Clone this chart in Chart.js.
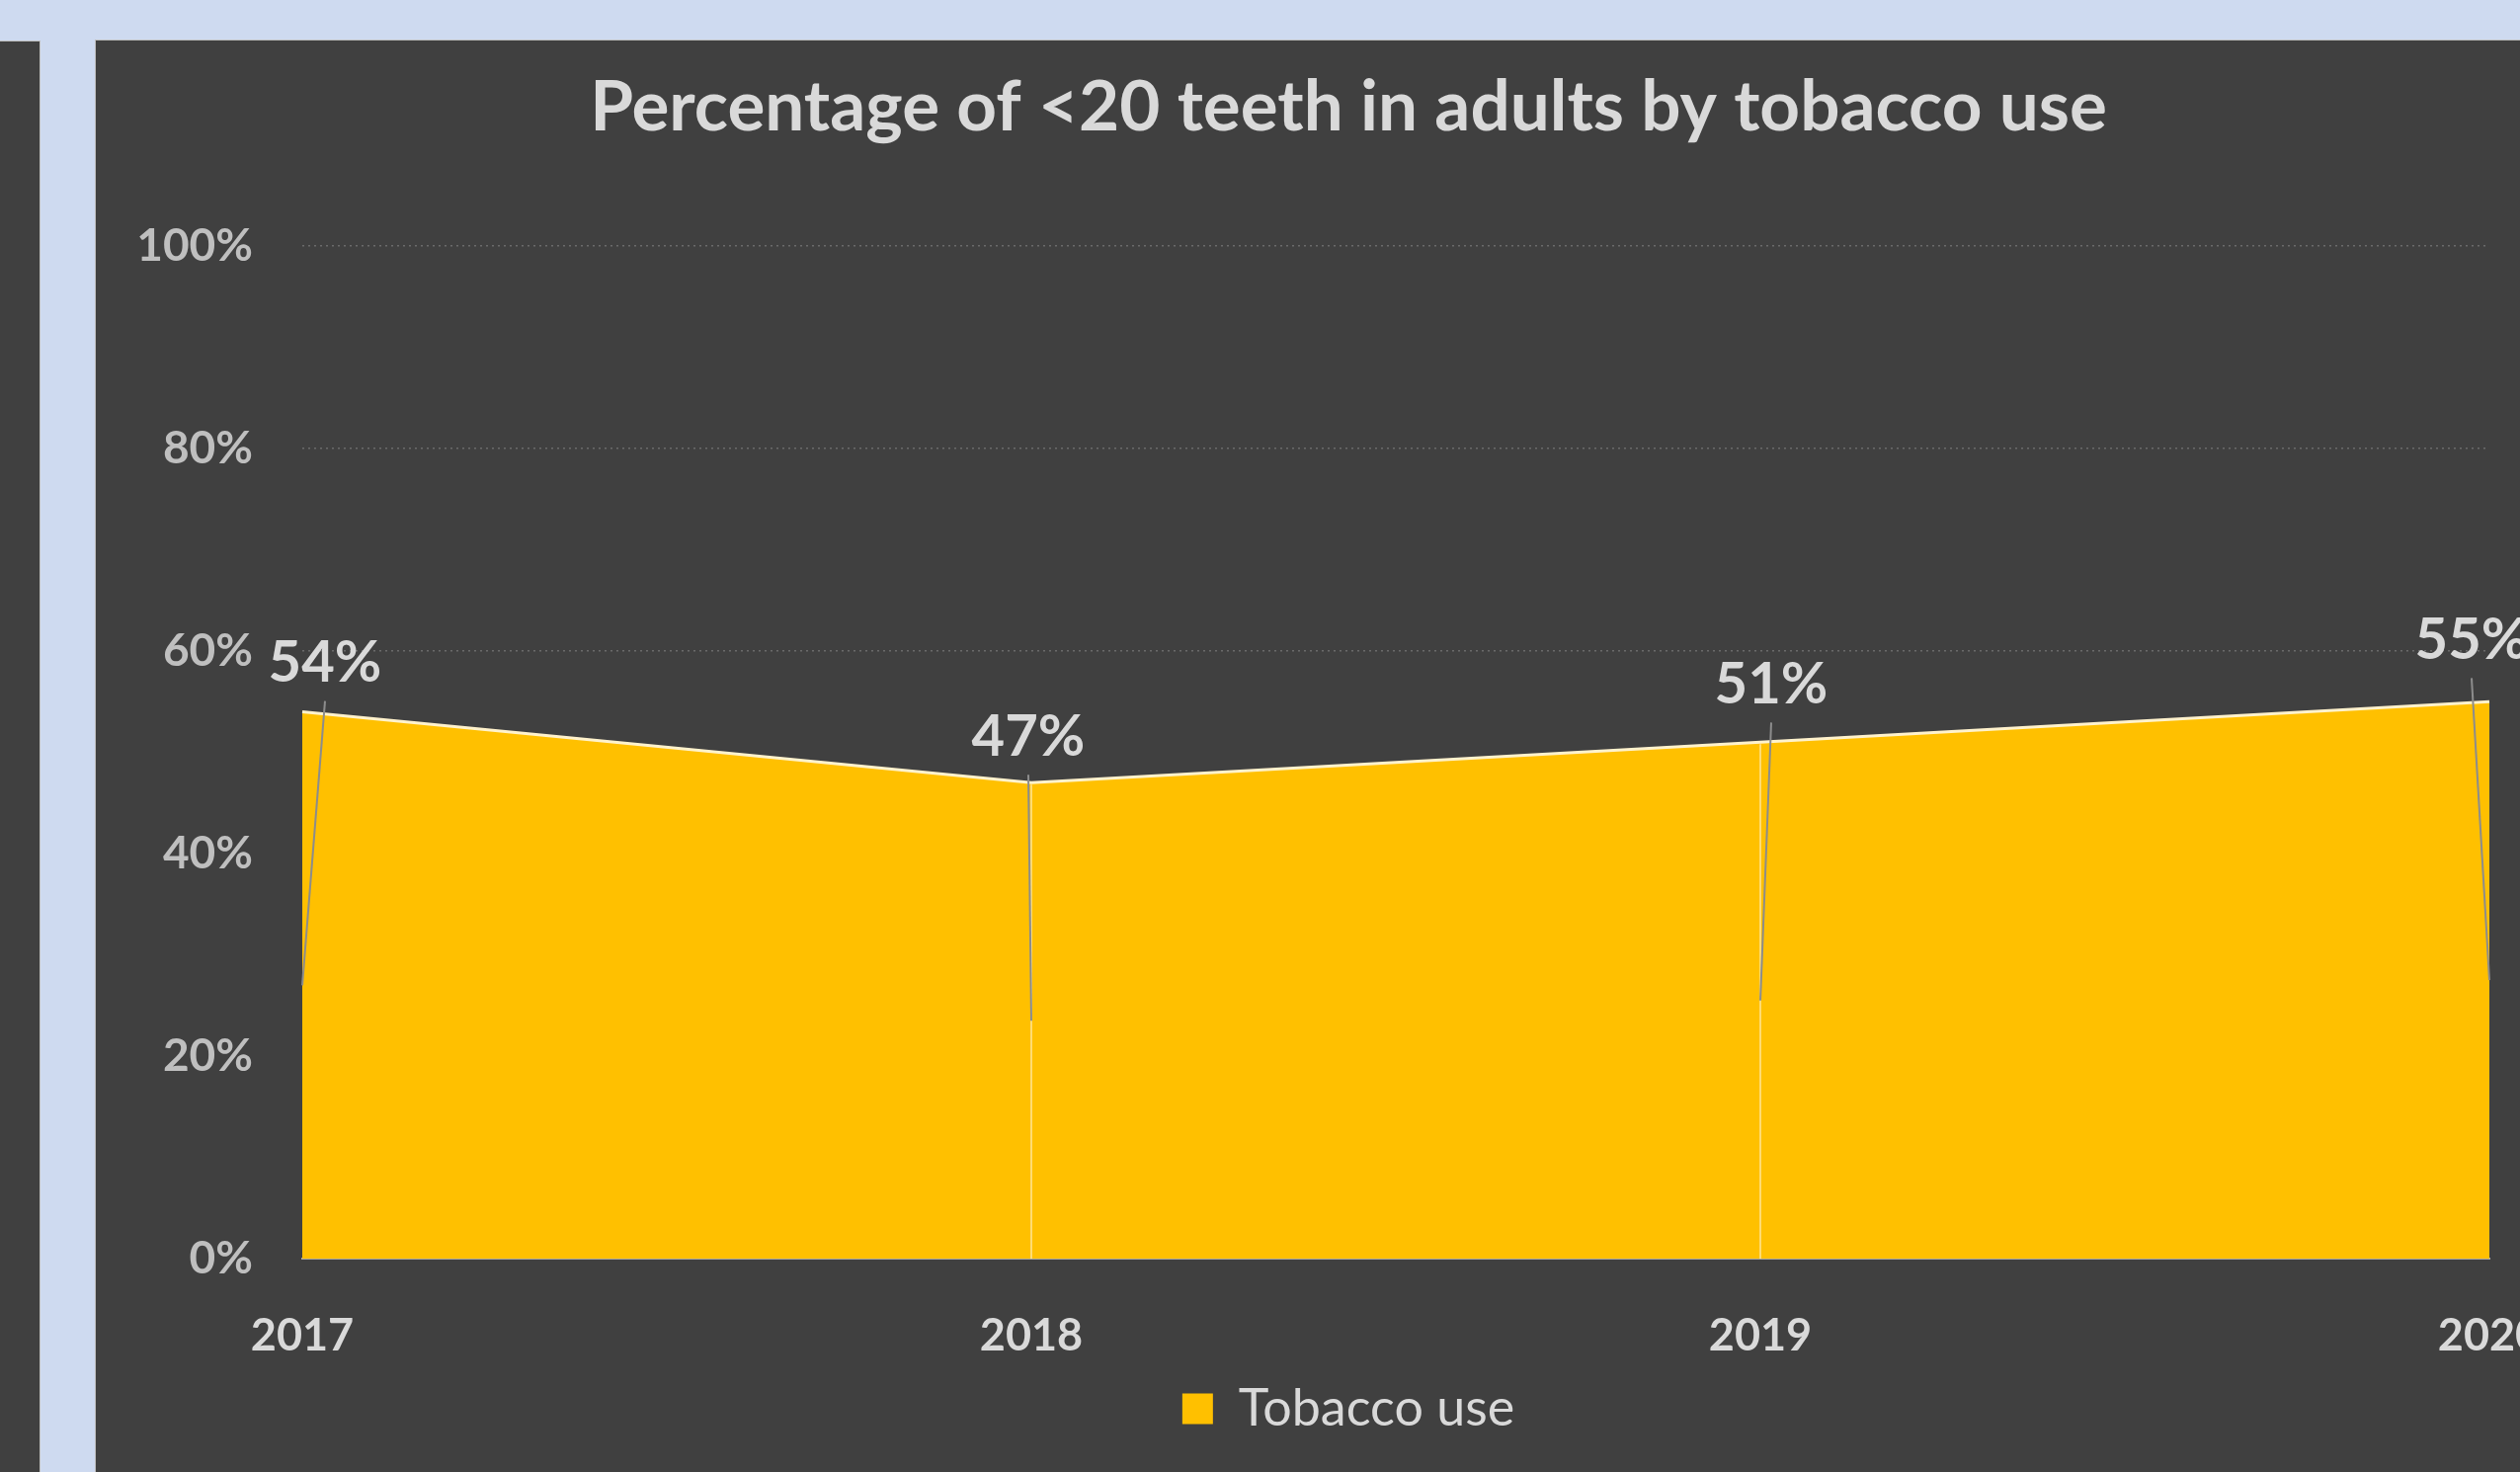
<!DOCTYPE html>
<html>
<head>
<meta charset="utf-8">
<script src="https://cdn.jsdelivr.net/npm/chart.js@4/dist/chart.umd.min.js"></script>
<style>
  html, body { margin: 0; padding: 0; overflow: hidden; width: 2551px; height: 1490px; background: #CEDAF0; }
  #leftPanel { position: absolute; left: 0; top: 41px; width: 40px; height: 1460px; background: #404040; border-top: 1px solid #BFBFBF; border-right: 1px solid #BFBFBF; }
  #panel { position: absolute; left: 96px; top: 40px; width: 2560px; height: 1470px; background: #404040; border-top: 1px solid #BFBFBF; border-left: 1px solid #BFBFBF; }
  #wrap { position: absolute; left: 97px; top: 41px; width: 2536px; height: 1449px; }
</style>
</head>
<body>
<div id="leftPanel"></div>
<div id="panel"></div>
<div id="wrap"><canvas id="c" width="2536" height="1449"></canvas></div>
<script>
// ---- data ----
const TITLE = 'Percentage of <20 teeth in adults by tobacco use';
const years = ['2017', '2018', '2019', '2020'];
const tobaccoUse = [0.54, 0.47, 0.51, 0.55];
const seriesName = 'Tobacco use';
const yTicks = [0, 0.2, 0.4, 0.6, 0.8, 1.0];

const pct = v => Math.round(v * 100) + '%';

const labelPlugin = {
  id: 'pointLabels',
  afterDatasetsDraw(chart, args, opts) {
    const meta = chart.getDatasetMeta(0);
    const ds = chart.data.datasets[0];
    const ys = chart.scales.y;
    const ctx = chart.ctx;
    const n = meta.data.length;
    ctx.save();
    // drop lines
    meta.data.forEach((pt, i) => {
      if (i === 0 || i === n - 1) return;
      ctx.strokeStyle = opts.dropColor;
      ctx.lineWidth = 1.5;
      ctx.beginPath();
      ctx.moveTo(pt.x, pt.y + 2);
      ctx.lineTo(pt.x, ys.getPixelForValue(0));
      ctx.stroke();
    });
    meta.data.forEach((pt, i) => {
      const v = ds.data[i];
      const off = opts.offsets[i] || [0, -50];
      const cx = pt.x + off[0], cy = pt.y + off[1];
      ctx.strokeStyle = opts.leaderColor;
      ctx.lineWidth = 2;
      ctx.beginPath();
      ctx.moveTo(cx, cy + opts.leaderGap);
      ctx.lineTo(pt.x, ys.getPixelForValue(v / 2));
      ctx.stroke();
      ctx.fillStyle = opts.color;
      ctx.font = opts.font;
      ctx.textAlign = 'center';
      ctx.textBaseline = 'middle';
      ctx.fillText(pct(v), cx, cy);
    });
    ctx.restore();
  }
};

new Chart(document.getElementById('c'), {
  type: 'line',
  data: {
    labels: years,
    datasets: [{
      label: seriesName,
      data: tobaccoUse,
      fill: 'origin',
      backgroundColor: '#FFC000',
      borderColor: '#FFF2CC',
      borderWidth: 3,
      pointRadius: 0,
      tension: 0
    }]
  },
  plugins: [labelPlugin],
  options: {
    responsive: false,
    devicePixelRatio: 1,
    animation: false,
    layout: { padding: { left: 0, right: 0, top: 0, bottom: 28 } },
    scales: {
      x: {
        offset: false,
        grid: { display: false, drawTicks: false },
        border: { display: true, color: '#A6A6A6', width: 2 },
        ticks: { color: '#D9D9D9', font: { family: 'Lato', weight: 'bold', size: 45 }, padding: 51, maxRotation: 0, autoSkip: false },
        afterFit(s) { s.height = 116; }
      },
      y: {
        min: 0, max: 1,
        afterBuildTicks(s) { s.ticks = yTicks.map(v => ({ value: v })); },
        grid: { color: '#6A6A6A', lineWidth: 1.5, drawTicks: false },
        border: { display: false, dash: [2, 4] },
        ticks: { color: '#BFBFBF', font: { family: 'Lato', weight: 'bold', size: 46 }, padding: 50, callback: v => pct(v) },
        afterFit(s) { s.width = 209; }
      },
      yRight: {
        position: 'right',
        display: true,
        min: 0, max: 1,
        grid: { display: false, drawTicks: false },
        border: { display: false },
        ticks: { display: false },
        afterFit(s) { s.width = 113; }
      }
    },
    plugins: {
      title: {
        display: true,
        text: TITLE,
        color: '#D9D9D9',
        font: { family: 'Lato', weight: 'bold', size: 71, lineHeight: 1.2 },
        padding: { top: 26, bottom: 97 }
      },
      legend: {
        display: true,
        position: 'bottom',
        labels: {
          color: '#D9D9D9',
          font: { family: 'Lato', weight: 'normal', size: 52 },
          boxWidth: 31,
          boxHeight: 31,
          padding: 10,
          generateLabels(chart) {
            const items = Chart.defaults.plugins.legend.labels.generateLabels(chart);
            items.forEach(it => { it.lineWidth = 0; it.strokeStyle = 'rgba(0,0,0,0)'; it.fillStyle = '#FFC000'; });
            return items;
          }
        }
      },
      tooltip: { enabled: false },
      pointLabels: {
        color: '#D9D9D9',
        font: 'bold 58px Lato',
        leaderColor: '#8C8C8C',
        dropColor: '#FFE699',
        leaderGap: 38,
        offsets: [[23, -49], [-3, -46], [11, -58], [-18, -62]]
      }
    }
  }
});
</script>
</body>
</html>
